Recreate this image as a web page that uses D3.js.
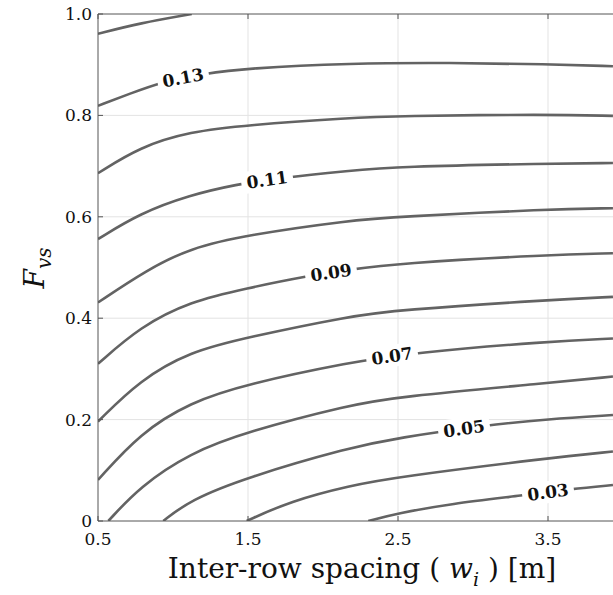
<!DOCTYPE html>
<html>
<head>
<meta charset="utf-8">
<style>
body { margin: 0; background: #fff; }
</style>
</head>
<body>
<svg id="mysvg" width="613" height="595"></svg>

<script src="https://d3js.org/d3.v7.min.js"></script>
<script>

// contour levels and the points, [spacing, Fvs]
var levels = [0.14, 0.13, 0.12, 0.11, 0.10, 0.09, 0.08, 0.07, 0.06, 0.05, 0.04, 0.03]
var c014 = [[0.5,0.961],[0.78,0.982],[1.125,1.0]]
var c013 = [[0.5,0.819],[0.713,0.843],[0.935,0.867],[1.202,0.882],[1.491,0.893],[2.18,0.903],[2.847,0.904],[3.498,0.901],[3.933,0.897]]
var c012 = [[0.5,0.686],[0.78,0.738],[1.113,0.768],[1.491,0.781],[2.18,0.795],[2.498,0.799],[3.498,0.802],[3.933,0.799]]
var c011 = [[0.5,0.556],[0.78,0.607],[1.113,0.643],[1.425,0.664],[1.691,0.676],[2.18,0.691],[2.498,0.699],[3.498,0.705],[3.933,0.706]]
var c010 = [[0.5,0.431],[0.824,0.495],[1.113,0.538],[1.491,0.564],[2.18,0.593],[2.498,0.600],[3.498,0.615],[3.933,0.617]]
var c009 = [[0.5,0.310],[0.78,0.383],[1.113,0.433],[1.491,0.459],[1.891,0.483],[2.18,0.496],[2.498,0.508],[3.498,0.525],[3.933,0.528]]
var c008 = [[0.5,0.196],[0.78,0.278],[1.113,0.334],[1.491,0.362],[2.18,0.404],[2.498,0.416],[3.498,0.436],[3.933,0.442]]
var c007 = [[0.5,0.081],[0.78,0.173],[1.113,0.234],[1.491,0.270],[2.18,0.313],[2.6,0.332],[3.498,0.354],[3.933,0.360]]
var c006 = [[0.569,0.0],[0.78,0.068],[1.113,0.134],[1.491,0.176],[2.18,0.229],[2.498,0.245],[3.498,0.272],[3.933,0.285]]
var c005 = [[0.935,0.0],[1.113,0.041],[1.491,0.086],[2.18,0.145],[2.498,0.164],[3.091,0.189],[3.498,0.201],[3.933,0.209]]
var c004 = [[1.491,0.0],[1.78,0.039],[2.18,0.070],[2.498,0.087],[3.498,0.124],[3.933,0.137]]
var c003 = [[2.302,0.0],[2.498,0.015],[2.847,0.034],[3.35,0.051],[3.65,0.063],[3.933,0.071]]
var contours = [c014, c013, c012, c011, c010, c009, c008, c007, c006, c005, c004, c003]

// labelled levels and where along x the label sits
var labelLevels = [0.13, 0.11, 0.09, 0.07, 0.05, 0.03]
var labelX = [1.067, 1.627, 2.053, 2.46, 2.94, 3.5]

var xTicks = [0.5, 1.5, 2.5, 3.5]
var yTicks = [0, 0.2, 0.4, 0.6, 0.8, 1.0]
var yTickLabels = ["0", "0.2", "0.4", "0.6", "0.8", "1.0"]

var svg = d3.select("#mysvg")

var x = d3.scaleLinear().domain([0.5, 4.0]).range([98, 623])
var y = d3.scaleLinear().domain([0, 1]).range([521, 14])

var serif = "'DejaVu Serif', 'Liberation Serif', serif"

var plot = svg.append("g")
svg.append("clipPath").attr("id", "clip")
   .append("rect").attr("x", 98).attr("y", 14).attr("width", 525).attr("height", 507)

// grid
plot.selectAll(".gx").data(xTicks.slice(1)).enter().append("line")
    .attr("x1", d => x(d)).attr("x2", d => x(d))
    .attr("y1", y(0)).attr("y2", y(1))
    .attr("stroke", "#e3e3e3").attr("stroke-width", 1)
plot.selectAll(".gy").data(yTicks.slice(1, 5)).enter().append("line")
    .attr("x1", x(0.5)).attr("x2", 623)
    .attr("y1", d => y(d)).attr("y2", d => y(d))
    .attr("stroke", "#e3e3e3").attr("stroke-width", 1)

// contour lines
var line = d3.line().x(d => x(d[0])).y(d => y(d[1])).curve(d3.curveBasis)
var lines = plot.append("g").attr("clip-path", "url(#clip)")
lines.selectAll("path").data(contours).enter().append("path")
     .attr("d", line)
     .attr("fill", "none")
     .attr("stroke", "#636363")
     .attr("stroke-width", 2.6)

// labels on the lines
function yAt(pts, xv){
  for (var i = 0; i < pts.length - 1; i++){
    if (xv >= pts[i][0] && xv <= pts[i+1][0]){
      var t = (xv - pts[i][0]) / (pts[i+1][0] - pts[i][0])
      return pts[i][1] + t * (pts[i+1][1] - pts[i][1])
    }
  }
  return pts[pts.length-1][1]
}
labelLevels.forEach(function(lv, i){
  var pts = contours[levels.indexOf(lv)]
  var xv = labelX[i]
  var px = x(xv), py = y(yAt(pts, xv))
  var ang = Math.atan2(y(yAt(pts, xv + 0.1)) - y(yAt(pts, xv - 0.1)), x(xv + 0.1) - x(xv - 0.1)) * 180 / Math.PI
  var g = plot.append("g").attr("transform", "translate(" + px + "," + py + ") rotate(" + ang + ")")
  g.append("rect").attr("x", -26).attr("y", -11).attr("width", 52).attr("height", 22).attr("fill", "#fff")
  g.append("text").text(lv.toFixed(2))
   .attr("text-anchor", "middle").attr("dy", "0.36em")
   .attr("font-family", serif).attr("font-weight", "bold").attr("font-size", 17)
   .attr("fill", "#111")
})

// frame
var axisColor = "#555"
plot.append("line").attr("x1", x(0.5)).attr("x2", 623).attr("y1", y(1)).attr("y2", y(1)).attr("stroke", axisColor)
plot.append("line").attr("x1", x(0.5)).attr("x2", 623).attr("y1", y(0)).attr("y2", y(0)).attr("stroke", axisColor)
plot.append("line").attr("x1", x(0.5)).attr("x2", x(0.5)).attr("y1", y(0)).attr("y2", y(1)).attr("stroke", axisColor)

// ticks
xTicks.forEach(function(t){
  plot.append("line").attr("x1", x(t)).attr("x2", x(t)).attr("y1", y(0)).attr("y2", y(0) - 5).attr("stroke", axisColor)
  plot.append("line").attr("x1", x(t)).attr("x2", x(t)).attr("y1", y(1)).attr("y2", y(1) + 5).attr("stroke", axisColor)
  plot.append("text").text(t.toFixed(1)).attr("x", x(t)).attr("y", y(0) + 24)
      .attr("text-anchor", "middle").attr("font-family", serif).attr("font-size", 17).attr("fill", "#111")
})
yTicks.forEach(function(t, i){
  plot.append("line").attr("x1", x(0.5)).attr("x2", x(0.5) + 5).attr("y1", y(t)).attr("y2", y(t)).attr("stroke", axisColor)
  plot.append("text").text(yTickLabels[i]).attr("x", x(0.5) - 6).attr("y", y(t)).attr("dy", "0.35em")
      .attr("text-anchor", "end").attr("font-family", serif).attr("font-size", 17).attr("fill", "#111")
})

// axis titles
var xt = svg.append("text").attr("x", 362).attr("y", 578).attr("text-anchor", "middle")
            .attr("font-family", serif).attr("font-size", 28).attr("fill", "#111")
xt.append("tspan").text("Inter-row spacing ( ")
xt.append("tspan").text("w").attr("font-style", "italic")
xt.append("tspan").text("i").attr("font-style", "italic").attr("font-size", 19).attr("dy", 8)
xt.append("tspan").text(" ) [m]").attr("dy", -8)

var yt = svg.append("text").attr("transform", "translate(44,268) rotate(-90)").attr("text-anchor", "middle")
            .attr("font-family", serif).attr("font-size", 28).attr("font-style", "italic").attr("fill", "#111")
yt.append("tspan").text("F")
yt.append("tspan").text("vs").attr("font-size", 20).attr("dy", 7)

</script>
</body>
</html>
